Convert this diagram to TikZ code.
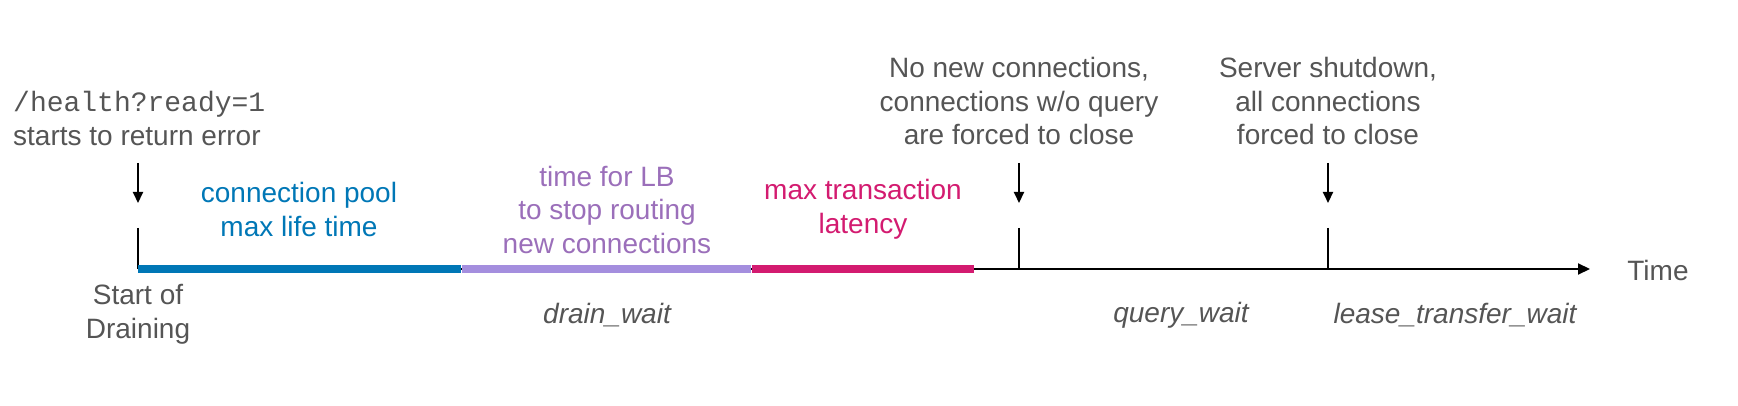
\documentclass[tikz,border=0pt]{standalone}
\usepackage{fontspec}
\setmainfont{Liberation Sans}
\setmonofont{Liberation Mono}
\usetikzlibrary{arrows.meta}
\definecolor{txtgray}{HTML}{555555}
\definecolor{cpblue}{HTML}{0077B6}
\definecolor{lbtext}{HTML}{9B6FBA}
\definecolor{lbbar}{HTML}{A48EDE}
\definecolor{magen}{HTML}{D31B70}
\begin{document}
\begin{tikzpicture}[x=1pt,y=-1pt,
  lbl/.style={font=\fontsize{28}{33.5}\selectfont, align=center, inner sep=0pt, text=txtgray},
  wlbl/.style={lbl, font=\fontsize{28}{33.5}\selectfont\itshape},
  axisline/.style={line width=2pt, draw=black, -{Triangle[width=11pt,length=12pt]}},
  tickline/.style={line width=2pt, draw=black},
  downarr/.style={line width=2pt, draw=black, -{Triangle[width=10pt,length=11pt]}},
  seg/.style={line width=8.5pt, line cap=butt}
]
\useasboundingbox (0,0) rectangle (1738,406);

% axis points
\coordinate (t0) at (138,269);
\coordinate (b1) at (461,269);
\coordinate (b2) at (751,269);
\coordinate (b3) at (974,269);
\coordinate (t1) at (1019,269);
\coordinate (t2) at (1328,269);
\coordinate (tend) at (1590,269);
% tick tops
\coordinate (k0) at (138,228);
\coordinate (k1) at (1019,228);
\coordinate (k2) at (1328,228);
% arrows
\coordinate (a0s) at (138,163);
\coordinate (a0e) at (138,203);
\coordinate (a1s) at (1019,163);
\coordinate (a1e) at (1019,203);
\coordinate (a2s) at (1328,163);
\coordinate (a2e) at (1328,203);

% axis
\draw[axisline] (t0) -- (tend);
% ticks
\draw[tickline] (k0) -- (t0);
\draw[tickline] (k1) -- (t1);
\draw[tickline] (k2) -- (t2);
% bars
\draw[seg, draw=cpblue] (t0) -- ([xshift=-0.5pt]b1);
\draw[seg, draw=lbbar] ([xshift=0.5pt]b1) -- ([xshift=-0.5pt]b2);
\draw[seg, draw=magen] ([xshift=0.5pt]b2) -- (b3);
% arrows
\draw[downarr] (a0s) -- (a0e);
\draw[downarr] (a1s) -- (a1e);
\draw[downarr] (a2s) -- (a2e);

% labels
\node[lbl, align=left, anchor=west] (health) at (13,118.5)
  {{\ttfamily /health?ready=1}\\starts to return error};
\node[lbl, text=cpblue] (cpool) at (299,209.5) {connection pool\\max life time};
\node[lbl, text=lbtext] (lb) at (607,209.5) {time for LB\\to stop routing\\new connections};
\node[lbl, text=magen] (mtx) at (863,209.5) {max transaction\\latency};
\node[lbl] (start) at (138,314.5) {Start of\\Draining};
\node[lbl] (nonew) at (1019,101) {No new connections,\\connections w/o query\\are forced to close};
\node[lbl] (shut) at (1328,101) {Server shutdown,\\all connections\\forced to close};
\node[lbl] (time) at (1658,270) {Time};
\node[wlbl] (drain) at (607,315) {drain\_wait};
\node[wlbl] (query) at (1181,315) {query\_wait};
\node[wlbl] (lease) at (1455,315) {lease\_transfer\_wait};
\end{tikzpicture}
\end{document}
